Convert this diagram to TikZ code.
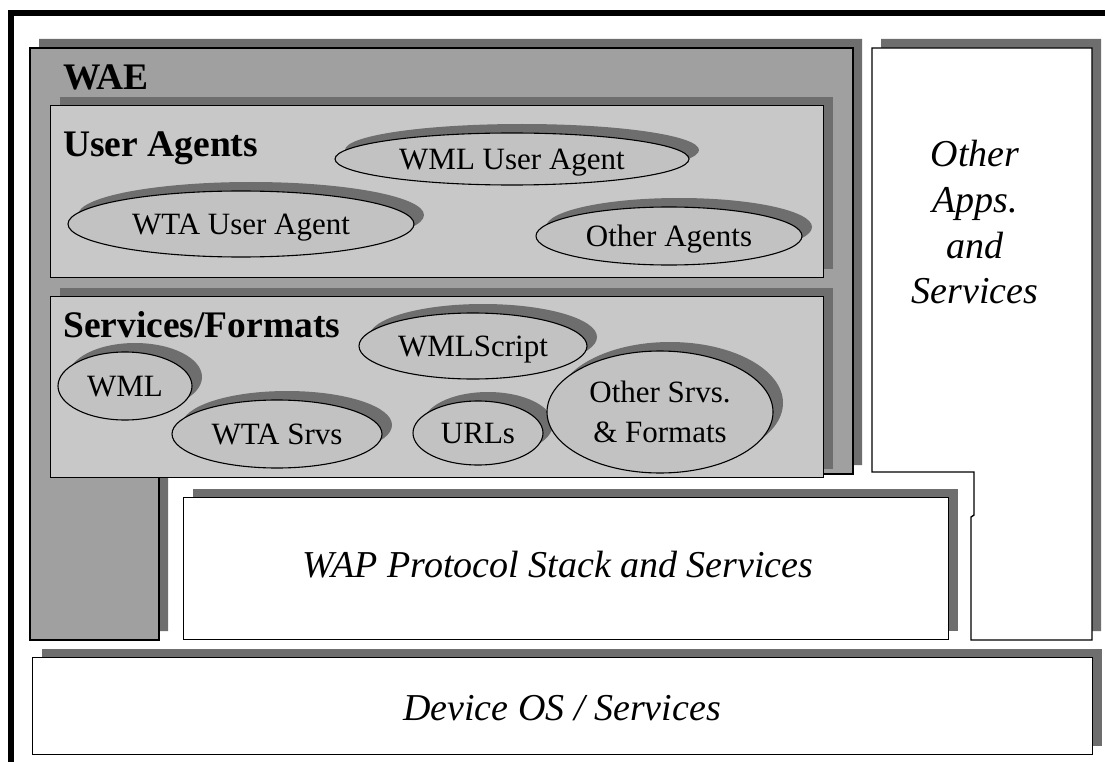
\documentclass[tikz,border=0pt]{standalone}
\usepackage{fontspec}
\setmainfont{Liberation Serif}
\usetikzlibrary{shapes.geometric,shadows}

\definecolor{waegray}{HTML}{A0A0A0}
\definecolor{panelgray}{HTML}{C8C8C8}
\definecolor{ovalgray}{HTML}{C2C2C2}
\definecolor{shadegray}{HTML}{6E6E6E}

\tikzset{
  x=1pt, y=-1pt,
  outline/.style={draw=black, line width=1.4pt},
  boxshadow/.style={drop shadow={shadow xshift=9pt, shadow yshift=9pt, fill=shadegray, opacity=1}},
  panel/.style={rectangle, anchor=north west, outline, fill=panelgray, inner sep=0pt, boxshadow},
  whitebox/.style={rectangle, anchor=north west, outline, fill=white, inner sep=0pt, boxshadow},
  boxtext/.style={anchor=base, inner sep=0pt, font=\fontsize{38}{45}\selectfont\itshape},
  oval/.style={ellipse, draw=black, line width=1.1pt, fill=ovalgray, inner sep=0pt,
    font=\fontsize{31}{40}\selectfont, text depth=0pt, align=center,
    drop shadow={shadow xshift=10pt, shadow yshift=9pt, fill=shadegray, opacity=1}},
  head/.style={anchor=base west, inner sep=0pt, font=\fontsize{37.5}{40}\selectfont\bfseries},
  sidetext/.style={anchor=base, inner sep=0pt, font=\fontsize{38}{45}\selectfont\itshape},
}

\begin{document}
\begin{tikzpicture}
\useasboundingbox (0,0) rectangle (1105,762);
\fill[white] (0,0) rectangle (1105,762);

% heavy frame along the top and the left
\fill[black] (8,10) rectangle (1105,16);
\fill[black] (8,10) rectangle (14,762);

% WAE block (L-shaped) with its shadow
\fill[shadegray, shift={(9pt,9pt)}]
  (30,48) -- (853,48) -- (853,474) -- (159,474) -- (159,640) -- (30,640) -- cycle;
\filldraw[outline, fill=waegray]
  (30,48) -- (853,48) -- (853,474) -- (159,474) -- (159,640) -- (30,640) -- cycle;

% other applications block (notched) with its shadow
\fill[shadegray, shift={(9pt,9pt)}]
  (872,48) -- (1092,48) -- (1092,640) -- (971,640) -- (971,517) -- (974,515) -- (974,472) -- (872,472) -- cycle;
\filldraw[outline, fill=white]
  (872,48) -- (1092,48) -- (1092,640) -- (971,640) -- (971,517) -- (974,515) -- (974,472) -- (872,472) -- cycle;

% protocol stack and device layers
\node[whitebox, minimum width=765pt, minimum height=142pt] (wap) at (183,497) {};
\node[boxtext] (waptext) at (558,577) {WAP Protocol Stack and Services};
\node[whitebox, minimum width=1060pt, minimum height=97pt] (dev) at (32,657) {};
\node[boxtext] (devtext) at (562,720) {Device OS / Services};

% inner panels of the WAE block
\node[panel, minimum width=773pt, minimum height=172pt] (ua) at (50,105) {};
\node[panel, minimum width=773pt, minimum height=181pt] (sf) at (50,296) {};

% headings
\node[head] (waeh) at (63,90) {WAE};
\node[head] (uah) at (63,157) {User Agents};
\node[head] (sfh) at (63,337) {Services/Formats};

% user agents
\node[oval, minimum width=354pt, minimum height=52pt] (wmlua) at (512,159) {WML User Agent};
\node[oval, minimum width=346pt, minimum height=66pt] (wtaua) at (241,224) {WTA User Agent};
\node[oval, minimum width=266pt, minimum height=58pt] (othag) at (669,236) {Other Agents};

% services and formats
\node[oval, minimum width=228pt, minimum height=66pt] (wmls) at (473,346) {WMLScript};
\node[oval, minimum width=134pt, minimum height=68pt] (wml) at (125,386) {WML};
\node[oval, minimum width=210pt, minimum height=68pt] (wtas) at (277,434) {WTA Srvs};
\node[oval, minimum width=130pt, minimum height=64pt] (urls) at (478,433) {URLs};
\node[oval, minimum width=226pt, minimum height=122pt] (othsf) at (660,412) {Other Srvs.\\\& Formats};

% side column text
\node[sidetext] (oa1) at (975,167) {Other};
\node[sidetext] (oa2) at (975,212) {Apps.};
\node[sidetext] (oa3) at (975,258) {and};
\node[sidetext] (oa4) at (975,303) {Services};
\end{tikzpicture}
\end{document}
